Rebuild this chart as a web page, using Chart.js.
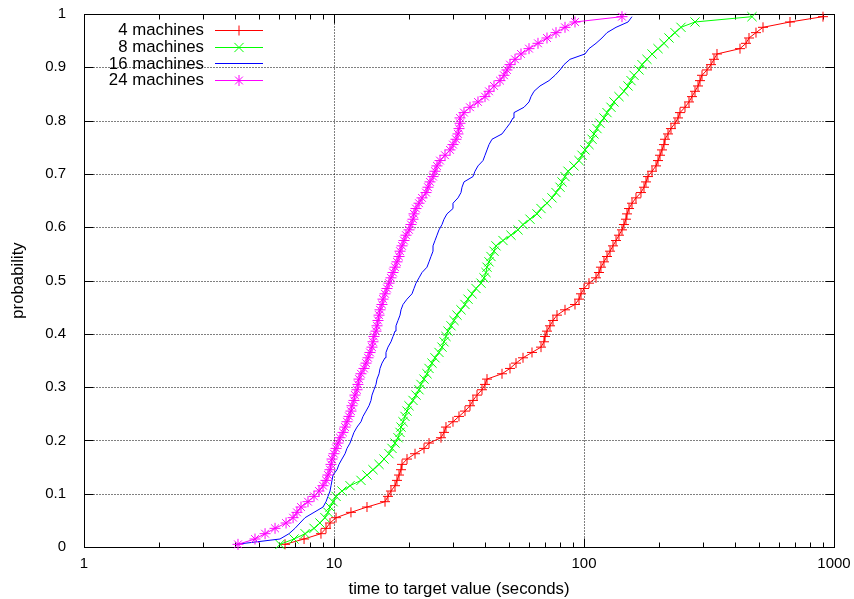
<!DOCTYPE html>
<html>
<head>
<meta charset="utf-8">
<title>time to target value</title>
<script src="https://cdn.jsdelivr.net/npm/chart.js@4.4.1/dist/chart.umd.min.js"></script>
<style>
  html, body { margin: 0; padding: 0; background: #fff; }
  #ttt { display: block; }
</style>
</head>
<body>
<canvas id="ttt" width="854" height="599"></canvas>
<script>
// cumulative probability of each sorted run (same for every series)
const probabilities = [
    0.005, 0.015, 0.025, 0.035, 0.045, 0.055, 0.065, 0.075, 0.085, 0.095,
    0.105, 0.115, 0.125, 0.135, 0.145, 0.155, 0.165, 0.175, 0.185, 0.195,
    0.205, 0.215, 0.225, 0.235, 0.245, 0.255, 0.265, 0.275, 0.285, 0.295,
    0.305, 0.315, 0.325, 0.335, 0.345, 0.355, 0.365, 0.375, 0.385, 0.395,
    0.405, 0.415, 0.425, 0.435, 0.445, 0.455, 0.465, 0.475, 0.485, 0.495,
    0.505, 0.515, 0.525, 0.535, 0.545, 0.555, 0.565, 0.575, 0.585, 0.595,
    0.605, 0.615, 0.625, 0.635, 0.645, 0.655, 0.665, 0.675, 0.685, 0.695,
    0.705, 0.715, 0.725, 0.735, 0.745, 0.755, 0.765, 0.775, 0.785, 0.795,
    0.805, 0.815, 0.825, 0.835, 0.845, 0.855, 0.865, 0.875, 0.885, 0.895,
    0.905, 0.915, 0.925, 0.935, 0.945, 0.955, 0.965, 0.975, 0.985, 0.995
];

// time to target (seconds)
const times4 = [
    6.37, 7.59, 8.87, 9.29, 9.64, 10.19, 11.69, 13.55, 16.00, 16.44,
    16.90, 17.54, 17.86, 18.20, 18.54, 18.71, 19.59, 21.09, 22.91, 23.99,
    26.79, 27.54, 28.05, 29.92, 31.62, 33.42, 34.99, 35.97, 37.33, 39.08,
    40.18, 40.93, 46.99, 50.58, 53.46, 57.02, 61.94, 67.30, 69.18, 69.82,
    71.12, 73.11, 75.16, 77.98, 83.95, 92.04, 95.50, 97.27, 100.0, 104.7,
    111.7, 114.8, 116.9, 120.2, 123.6, 127.1, 130.6, 134.3, 138.0, 141.9,
    144.5, 147.2, 148.6, 151.4, 155.6, 161.4, 169.0, 173.8, 177.0, 180.3,
    187.1, 194.1, 197.7, 201.4, 205.1, 208.9, 210.9, 216.8, 222.8, 231.2,
    237.7, 242.1, 253.5, 263.0, 270.4, 278.0, 285.8, 291.1, 296.5, 310.5,
    322.1, 331.1, 340.4, 420.7, 444.6, 457.1, 487.5, 520.0, 666.8, 903.6
];
const times8 = [
    6.08, 6.92, 7.66, 8.32, 8.79, 9.20, 9.46, 9.64, 9.91, 10.19,
    10.76, 11.59, 12.82, 13.55, 14.32, 15.14, 15.85, 16.60, 17.06, 17.54,
    18.03, 18.37, 18.54, 18.88, 19.23, 19.59, 19.95, 20.70, 21.28, 21.88,
    22.28, 22.91, 23.55, 23.99, 24.66, 25.35, 26.30, 27.04, 27.54, 28.05,
    28.58, 29.38, 30.20, 31.05, 32.21, 33.42, 34.36, 35.65, 36.98, 38.73,
    39.81, 40.55, 40.93, 41.69, 42.46, 43.65, 44.46, 47.42, 51.05, 54.45,
    57.02, 60.81, 64.86, 67.30, 71.12, 74.47, 77.27, 80.17, 81.66, 83.95,
    86.30, 91.20, 95.50, 98.17, 100.9, 104.7, 107.7, 109.6, 112.7, 115.9,
    120.2, 123.6, 128.2, 131.8, 138.0, 144.5, 150.0, 154.2, 158.5, 166.0,
    170.6, 178.6, 187.1, 197.7, 208.9, 218.8, 231.2, 244.3, 278.0, 469.9
];
const times16 = [
    4.06, 6.08, 6.61, 6.98, 7.31, 7.66, 8.32, 9.04, 9.29, 9.46,
    9.64, 9.73, 9.82, 9.91, 10.28, 10.47, 10.76, 11.07, 11.27, 11.59,
    11.80, 12.02, 12.36, 12.82, 13.06, 13.43, 13.80, 14.06, 14.19, 14.45,
    14.72, 14.86, 15.14, 15.28, 15.56, 16.00, 16.14, 16.44, 16.90, 17.22,
    17.54, 17.70, 18.03, 18.37, 18.54, 18.88, 19.59, 20.51, 20.89, 21.28,
    21.88, 22.49, 23.55, 23.99, 24.43, 24.89, 24.89, 25.35, 25.82, 26.30,
    27.04, 27.54, 28.31, 29.92, 29.92, 31.33, 32.21, 32.51, 33.11, 35.97,
    36.64, 37.67, 39.45, 40.18, 40.93, 41.69, 42.85, 46.99, 48.75, 50.58,
    52.00, 52.48, 57.54, 60.26, 61.38, 63.10, 66.68, 72.44, 76.56, 80.17,
    83.18, 87.90, 100.9, 104.7, 111.7, 118.0, 123.6, 134.3, 150.0, 155.6
];
const times24 = [
    4.13, 4.83, 5.30, 5.81, 6.43, 6.86, 7.11, 7.38, 7.87, 8.32,
    8.71, 9.04, 9.29, 9.46, 9.64, 9.73, 9.82, 10.00, 10.19, 10.38,
    10.57, 10.86, 11.07, 11.27, 11.48, 11.69, 11.80, 12.02, 12.13, 12.36,
    12.47, 12.59, 12.82, 13.18, 13.43, 13.68, 13.93, 14.19, 14.32, 14.45,
    14.72, 14.86, 15.00, 15.14, 15.28, 15.56, 15.70, 16.00, 16.29, 16.60,
    16.90, 17.22, 17.54, 17.86, 18.20, 18.37, 18.71, 19.05, 19.41, 19.95,
    20.32, 20.70, 20.89, 21.28, 21.88, 22.49, 23.33, 23.77, 24.21, 24.89,
    25.35, 25.82, 26.55, 27.80, 29.11, 29.92, 30.76, 31.33, 31.62, 31.92,
    31.92, 33.11, 34.99, 37.67, 40.18, 41.69, 43.65, 46.13, 47.86, 49.20,
    50.58, 52.97, 55.98, 60.26, 65.46, 71.12, 77.27, 83.95, 92.04, 141.9
];

const seriesNames = ['4 machines', '8 machines', '16 machines', '24 machines'];
const xMajorTicks = [1, 10, 100, 1000];
const xMinorSteps = [2, 3, 4, 5, 6, 7, 8, 9];
const yTickValues = [0, 0.1, 0.2, 0.3, 0.4, 0.5, 0.6, 0.7, 0.8, 0.9, 1];

const FONT = '"Liberation Sans", Arial, Helvetica, sans-serif';

function toPoints(times) {
    return times.map((t, i) => ({ x: t, y: probabilities[i] }));
}

function crisp(v) {
    return Math.round(v) + 0.5;
}

// gnuplot style frame: dotted grid, inward ticks on all four sides, border
const framePlugin = {
    id: 'frame',
    beforeDatasetsDraw(chart) {
        const { ctx, chartArea: area, scales } = chart;
        const xs = scales.x;
        const ys = scales.y;
        const left = crisp(area.left);
        const right = crisp(area.right);
        const top = crisp(area.top);
        const bottom = crisp(area.bottom);

        ctx.save();
        ctx.strokeStyle = '#000';
        ctx.lineWidth = 1;

        ctx.setLineDash([1, 2]);
        ctx.beginPath();
        yTickValues.slice(1, -1).forEach((v) => {
            const py = crisp(ys.getPixelForValue(v));
            ctx.moveTo(left, py);
            ctx.lineTo(right, py);
        });
        xMajorTicks.slice(1, -1).forEach((v) => {
            const px = crisp(xs.getPixelForValue(v));
            ctx.moveTo(px, top);
            ctx.lineTo(px, bottom);
        });
        ctx.stroke();
        ctx.setLineDash([]);

        ctx.beginPath();
        yTickValues.forEach((v) => {
            const py = crisp(ys.getPixelForValue(v));
            ctx.moveTo(left, py);
            ctx.lineTo(left + 9, py);
            ctx.moveTo(right, py);
            ctx.lineTo(right - 9, py);
        });
        xMajorTicks.forEach((v) => {
            const px = crisp(xs.getPixelForValue(v));
            ctx.moveTo(px, bottom);
            ctx.lineTo(px, bottom - 9);
            ctx.moveTo(px, top);
            ctx.lineTo(px, top + 9);
        });
        xMajorTicks.slice(0, -1).forEach((decade) => {
            xMinorSteps.forEach((step) => {
                const px = crisp(xs.getPixelForValue(decade * step));
                ctx.moveTo(px, bottom);
                ctx.lineTo(px, bottom - 5);
                ctx.moveTo(px, top);
                ctx.lineTo(px, top + 5);
            });
        });
        ctx.stroke();

        ctx.strokeRect(left, top, right - left, bottom - top);
        ctx.restore();
    }
};

// key in the top left corner: label, then line sample with its marker
const keyPlugin = {
    id: 'key',
    afterDatasetsDraw(chart) {
        const { ctx, chartArea: area } = chart;
        const textRight = area.left + 120;
        const lineStart = area.left + 131;
        const lineEnd = area.left + 179;
        const rowTop = area.top + 16;
        const rowStep = 16.7;

        ctx.save();
        ctx.font = '16.8px ' + FONT;
        ctx.textAlign = 'right';
        ctx.textBaseline = 'middle';
        ctx.fillStyle = '#000';

        chart.data.datasets.forEach((ds, i) => {
            const yy = rowTop + i * rowStep;
            const color = ds.pointBorderColor;
            ctx.fillText(ds.label, textRight, yy + 0.5);
            ctx.strokeStyle = color;
            ctx.lineWidth = 1;
            ctx.beginPath();
            ctx.moveTo(lineStart, crisp(yy));
            ctx.lineTo(lineEnd, crisp(yy));
            ctx.stroke();
            if (ds.pointStyle && ds.pointRadius > 0) {
                ctx.strokeStyle = color;
                Chart.helpers.drawPoint(ctx, {
                    pointStyle: ds.pointStyle,
                    radius: ds.pointRadius,
                    rotation: 0,
                    borderWidth: 1
                }, (lineStart + lineEnd) / 2, crisp(yy));
            }
        });
        ctx.restore();
    }
};

function makeSeries(label, times, color, marker, radius, order) {
    return {
        label,
        data: toPoints(times),
        borderColor: color,
        backgroundColor: color,
        borderWidth: 1,
        pointStyle: marker,
        pointRadius: radius,
        pointBorderWidth: 1,
        pointBorderColor: color,
        tension: 0,
        clip: false,
        order
    };
}

// keep the plot box where it is, whatever the edge labels would ask for
function noEdgePadding(scale) {
    scale.paddingTop = 0;
    scale.paddingBottom = 0;
    scale.paddingLeft = 0;
    scale.paddingRight = 0;
}

Chart.defaults.font.family = FONT;
Chart.defaults.font.size = 15;
Chart.defaults.color = '#000';

new Chart(document.getElementById('ttt'), {
    type: 'line',
    data: {
        datasets: [
            makeSeries(seriesNames[0], times4, '#ff0000', 'cross', 5, 4),
            makeSeries(seriesNames[1], times8, '#00ff00', 'crossRot', 6.5, 3),
            makeSeries(seriesNames[2], times16, '#0000ff', false, 0, 2),
            makeSeries(seriesNames[3], times24, '#ff00ff', 'star', 5.5, 1)
        ]
    },
    options: {
        responsive: false,
        animation: false,
        devicePixelRatio: 1,
        layout: {
            padding: { left: 0, top: 14, right: 20, bottom: 0 }
        },
        plugins: {
            legend: { display: false },
            tooltip: { enabled: false }
        },
        scales: {
            x: {
                type: 'logarithmic',
                min: 1,
                max: 1000,
                grid: { display: false },
                border: { display: false },
                afterBuildTicks: (scale) => {
                    scale.ticks = xMajorTicks.map((v) => ({ value: v }));
                },
                afterFit: (scale) => {
                    scale.height = 52;
                    noEdgePadding(scale);
                },
                ticks: {
                    autoSkip: false,
                    maxRotation: 0,
                    minRotation: 0,
                    padding: 0,
                    callback: (value) => String(value)
                },
                title: {
                    display: true,
                    text: 'time to target value (seconds)',
                    font: { size: 16.8 },
                    padding: { top: 0, bottom: 0 }
                }
            },
            y: {
                type: 'linear',
                min: 0,
                max: 1,
                grid: { display: false },
                border: { display: false },
                afterBuildTicks: (scale) => {
                    scale.ticks = yTickValues.map((v) => ({ value: v }));
                },
                afterFit: (scale) => {
                    scale.width = 84;
                    noEdgePadding(scale);
                },
                ticks: {
                    padding: 10,
                    callback: (value) => String(Number(value.toFixed(1)))
                },
                title: {
                    display: true,
                    text: 'probability',
                    font: { size: 16.8 },
                    padding: { top: 8, bottom: 0 }
                }
            }
        }
    },
    plugins: [framePlugin, keyPlugin]
});
</script>
</body>
</html>
